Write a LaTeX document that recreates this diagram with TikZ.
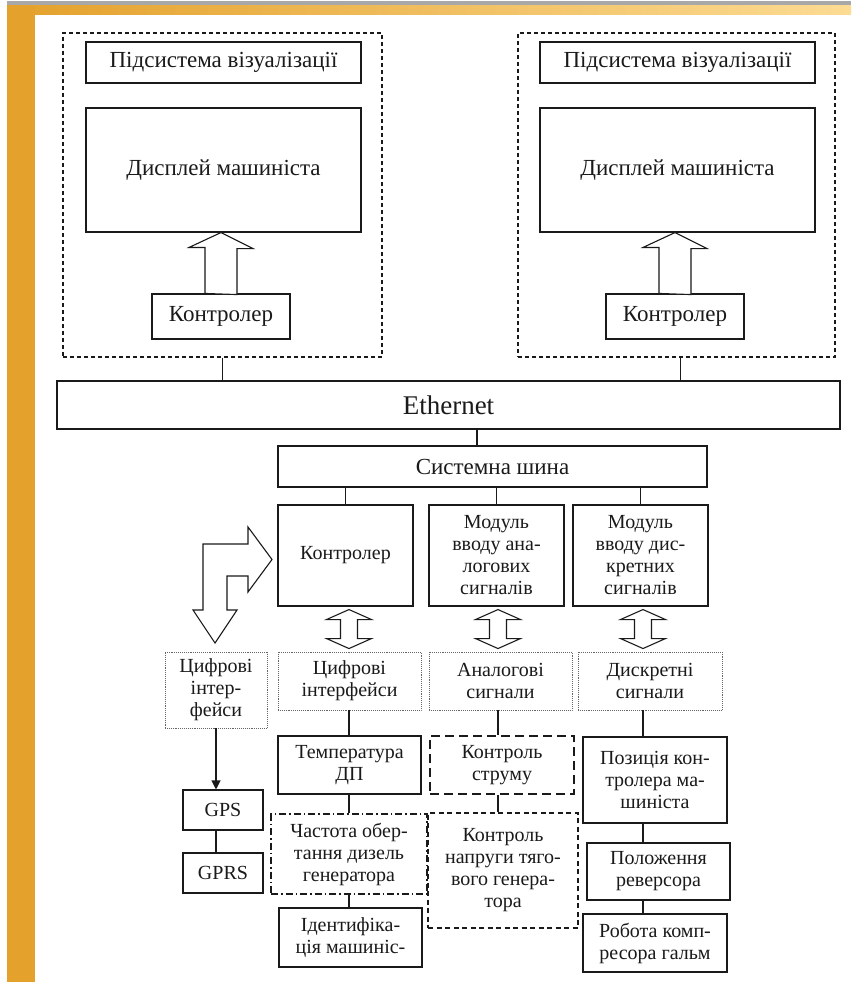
\documentclass[tikz,border=0pt]{standalone}
\usepackage{fontspec}
\setmainfont{Liberation Serif}
\usetikzlibrary{calc,arrows.meta}
\definecolor{slidegold}{HTML}{E4A12C}
\definecolor{slidepale}{HTML}{FCDB93}
\definecolor{slidegray}{HTML}{A8A8A8}
\definecolor{ink}{HTML}{1A1A1A}

\begin{document}
\begin{tikzpicture}[x=1pt, y=-1pt,
  blk/.style={draw=ink, line width=1.1pt, align=center, inner sep=0pt, text=ink,
              font=\fontsize{20}{22}\selectfont},
  topblk/.style={blk, font=\fontsize{23}{26}\selectfont},
  group/.style={draw=ink, line width=1.1pt, dash pattern=on 4pt off 3pt, inner sep=0pt},
  sigbox/.style={blk, draw=black!60, line width=0.9pt, densely dotted},
  longdash/.style={blk, line width=1.6pt, dash pattern=on 9pt off 5pt},
  shortdash/.style={blk, line width=1.3pt, dash pattern=on 5pt off 3.5pt},
  dashdot/.style={blk, line width=1.3pt, dash pattern=on 7pt off 3pt on 1.5pt off 3pt},
  wire/.style={draw=ink, line width=1.1pt},
  hollow/.style={draw=ink, line width=1.1pt, fill=white, line join=miter},
]
\useasboundingbox (0,0) rectangle (851,982);

% slide background
\fill[white] (0,0) rectangle (851,982);
\fill[slidegray] (7,1) rectangle (851,6);
\shade[left color=slidegold, right color=slidepale] (7,6) rectangle (851,15);
\fill[slidegold] (7,6) rectangle (35,982);

% visualisation subsystems, left and right
\node[group, minimum width=319pt, minimum height=324pt] (groupL) at (222.5,195) {};
\node[topblk, minimum width=275pt, minimum height=41pt]  (titleL) at (223.5,62.5) {Підсистема візуалізації};
\node[topblk, minimum width=275pt, minimum height=124pt] (dispL)  at (223.5,170)  {Дисплей машиніста};
\node[topblk, minimum width=138pt, minimum height=45pt]  (ctrlL)  at (221,316.5)  {Контролер};

\node[group, minimum width=317pt, minimum height=324pt] (groupR) at (676.5,195) {};
\node[topblk, minimum width=275pt, minimum height=41pt]  (titleR) at (677.5,62.5) {Підсистема візуалізації};
\node[topblk, minimum width=275pt, minimum height=124pt] (dispR)  at (677.5,170)  {Дисплей машиніста};
\node[topblk, minimum width=138pt, minimum height=45pt]  (ctrlR)  at (675,316.5)  {Контролер};

% buses
\node[topblk, font=\fontsize{27}{30}\selectfont, minimum width=783pt, minimum height=48pt] (ether) at (448.5,405) {Ethernet};
\node[topblk, minimum width=429pt, minimum height=41pt] (sys) at (492.5,466.5) {Системна шина};

% modules on the system bus
\node[blk, minimum width=135pt, minimum height=101pt] (ctrl) at (345.5,555.5) {Контролер};
\node[blk, minimum width=135pt, minimum height=101pt] (modA) at (496.5,555.5) {Модуль\\вводу ана-\\логових\\сигналів};
\node[blk, minimum width=135pt, minimum height=101pt] (modD) at (640.5,555.5) {Модуль\\вводу дис-\\кретних\\сигналів};

% signal groups
\node[sigbox, minimum width=102pt, minimum height=76pt] (difL) at (216,690)   {Цифрові\\інтер-\\фейси};
\node[sigbox, minimum width=143pt, minimum height=58pt] (dif)  at (349.5,681) {Цифрові\\інтерфейси};
\node[sigbox, minimum width=143pt, minimum height=58pt] (ana)  at (500.5,681) {Аналогові\\сигнали};
\node[sigbox, minimum width=144pt, minimum height=58pt] (dis)  at (650,681)   {Дискретні\\сигнали};

% sources
\node[blk, minimum width=80pt, minimum height=40pt]   (gps)   at (223,810)     {GPS};
\node[blk, minimum width=80pt, minimum height=40pt]   (gprs)  at (223,873)     {GPRS};
\node[blk, minimum width=143pt, minimum height=58pt]  (temp)  at (349.5,765)   {Температура\\ДП};
\node[dashdot, minimum width=156pt, minimum height=80pt] (freq) at (349,854)   {Частота обер-\\тання дизель\\генератора};
\node[blk, minimum width=143pt, minimum height=59pt]  (ident) at (350.5,937.5) {Ідентифіка-\\ція машиніс-};
\node[longdash, minimum width=144pt, minimum height=58pt]  (curr) at (502,765)  {Контроль\\струму};
\node[shortdash, minimum width=150pt, minimum height=115pt] (volt) at (503,870.5) {Контроль\\напруги тяго-\\вого генера-\\тора};
\node[blk, minimum width=144pt, minimum height=86pt]  (pos)   at (655,780)     {Позиція кон-\\тролера ма-\\шиніста};
\node[blk, minimum width=143pt, minimum height=57pt]  (rev)   at (658.5,871.5) {Положення\\реверсора};
\node[blk, minimum width=144pt, minimum height=58pt]  (brake) at (655,943)     {Робота комп-\\ресора гальм};

% columns of the lower chains
\coordinate (colC) at (349,0);
\coordinate (colA) at (498,0);
\coordinate (colD) at (643,0);

% bus wiring
\draw[wire] (groupL.south) -- (groupL.south |- ether.north);
\draw[wire] ([xshift=4pt]groupR.south) -- ([xshift=4pt]groupR.south |- ether.north);
\draw[wire] ([xshift=-15.5pt]sys.north) -- ([xshift=-15.5pt]sys.north |- ether.south);
\foreach \n in {ctrl,modA,modD}
  \draw[wire] (\n.north) -- (\n.north |- sys.south);

% hollow arrows controller -> display
\foreach \c/\d in {ctrlL/dispL, ctrlR/dispR}
  \draw[hollow] ([xshift=-16pt]\c.north) -- ++(0,-46) -- ++(-16,0) -- (\c.north |- \d.south)
    -- ++(32,16) -- ++(-16,0) -- ++(0,46) -- cycle;

% hollow two-way arrows modules <-> signals
\foreach \c in {colC,colA,colD}
  \draw[hollow] ([yshift=-3pt]\c |- ctrl.south) -- ++(22.5,10) -- ++(-14,0) -- ++(0,19) -- ++(14,0)
    -- ++(-22.5,10) -- ++(-22.5,-10) -- ++(14,0) -- ++(0,-19) -- ++(-14,0) -- cycle;

% bent hollow arrow controller / digital interfaces
\draw[hollow] (203,544) -- (248,544) -- (248,527) -- (272,559.5) -- (248,592) -- (248,576)
  -- (227,576) -- (227,610) -- (237,610) -- (215,643) -- (193,610) -- (203,610) -- cycle;

% chains
\draw[wire, -{Triangle[length=9pt,width=9pt]}] (difL.south) -- (difL.south |- gps.north);
\draw[wire] (gps.south -| difL) -- (gprs.north -| difL);
\draw[wire] (dif.south -| colC) -- (temp.north -| colC);
\draw[wire] (temp.south -| colC) -- (freq.north -| colC);
\draw[wire] (freq.south -| colC) -- (ident.north -| colC);
\draw[wire] (ana.south -| colA) -- (curr.north -| colA);
\draw[wire] (curr.south -| colA) -- (volt.north -| colA);
\draw[wire] (dis.south -| colD) -- (pos.north -| colD);
\draw[wire] (pos.south -| colD) -- (rev.north -| colD);
\draw[wire] (rev.south -| colD) -- (brake.north -| colD);
\end{tikzpicture}
\end{document}
